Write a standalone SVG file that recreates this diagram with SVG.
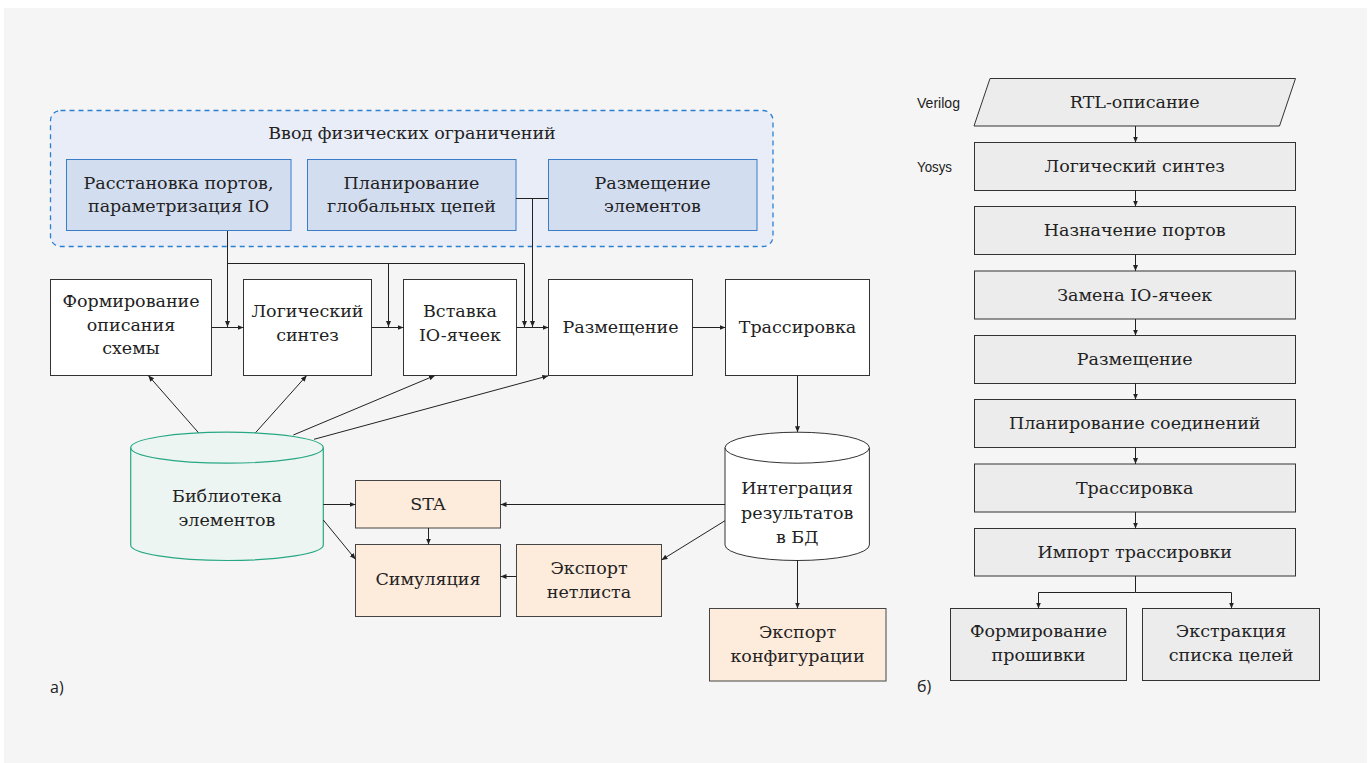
<svg xmlns="http://www.w3.org/2000/svg" width="1371" height="763" viewBox="0 0 1371 763">
<defs>
<marker id="ah" markerUnits="userSpaceOnUse" markerWidth="7" markerHeight="6" refX="6" refY="2.5" orient="auto">
<path d="M0,0 L6,2.5 L0,5 Z" fill="#222"/>
</marker>
<style>
.t{font-family:"DejaVu Serif","Liberation Serif",serif;font-size:17.5px;fill:#222;text-anchor:middle}
.s{font-family:"Liberation Sans Narrow","Liberation Sans",sans-serif;font-size:15px;fill:#222}
.lb{font-family:"Open Sans","Liberation Sans",sans-serif;font-size:16px;fill:#222}
.wb{fill:#fff;stroke:#333;stroke-width:1}
.bb{fill:#d3ddf0;stroke:#3a7cc8;stroke-width:1}
.ob{fill:#fdebdc;stroke:#444;stroke-width:1}
.gb{fill:#ececec;stroke:#333;stroke-width:1}
.c{fill:none;stroke:#222;stroke-width:1}
.a{marker-end:url(#ah)}
</style>
</defs>
<rect x="4" y="8" width="1363" height="755" fill="#f5f5f5"/>

<g id="constraints">
<rect x="50.5" y="110.5" width="722.5" height="136" rx="10" fill="#e9edf7" stroke="#2b7fd0" stroke-width="1.3" stroke-dasharray="5,4"/>
<text class="t" x="412" y="138.5">Ввод физических ограничений</text>
</g>
<g id="n-ports">
<rect class="bb" x="66.5" y="159.5" width="224.5" height="71"/>
<text class="t" x="178.5" y="189">Расстановка портов,</text>
<text class="t" x="178.5" y="212">параметризация IO</text>
</g>
<g id="n-global">
<rect class="bb" x="307.5" y="159.5" width="208.5" height="71"/>
<text class="t" x="411.5" y="189">Планирование</text>
<text class="t" x="411.5" y="212">глобальных цепей</text>
</g>
<g id="n-place-el">
<rect class="bb" x="548.5" y="159.5" width="208.5" height="71"/>
<text class="t" x="652.5" y="189">Размещение</text>
<text class="t" x="652.5" y="212">элементов</text>
</g>

<g id="n-form">
<rect class="wb" x="50.5" y="279.5" width="161" height="96"/>
<text class="t" x="131" y="307">Формирование</text>
<text class="t" x="131" y="330.5">описания</text>
<text class="t" x="131" y="354">схемы</text>
</g>
<g id="n-synth">
<rect class="wb" x="243.5" y="279.5" width="128" height="96"/>
<text class="t" x="307.5" y="317">Логический</text>
<text class="t" x="307.5" y="340.5">синтез</text>
</g>
<g id="n-io">
<rect class="wb" x="403.5" y="279.5" width="113" height="96"/>
<text class="t" x="460" y="317">Вставка</text>
<text class="t" x="460" y="340.5">IO-ячеек</text>
</g>
<g id="n-place">
<rect class="wb" x="548.5" y="279.5" width="144" height="96"/>
<text class="t" x="620.5" y="333">Размещение</text>
</g>
<g id="n-route">
<rect class="wb" x="725.5" y="279.5" width="144" height="96"/>
<text class="t" x="797.5" y="333">Трассировка</text>
</g>

<g id="n-lib">
<path d="M130.7,447.7 A96.3,15.5 0 0 1 323.3,447.7 L323.3,545 A96.3,15.5 0 0 1 130.7,545 Z" fill="#edf5f3" stroke="#27a882" stroke-width="1.2"/>
<path d="M130.7,447.7 A96.3,15.5 0 0 0 323.3,447.7" fill="none" stroke="#27a882" stroke-width="1.2"/>
<text class="t" x="227" y="502">Библиотека</text>
<text class="t" x="227" y="525.5">элементов</text>
</g>
<g id="n-db">
<path d="M725,447.7 A72.2,15.5 0 0 1 869.4,447.7 L869.4,545 A72.2,15.5 0 0 1 725,545 Z" fill="#fff" stroke="#333" stroke-width="1"/>
<path d="M725,447.7 A72.2,15.5 0 0 0 869.4,447.7" fill="none" stroke="#333" stroke-width="1"/>
<text class="t" x="797.2" y="494">Интеграция</text>
<text class="t" x="797.2" y="519">результатов</text>
<text class="t" x="797.2" y="543">в БД</text>
</g>
<g id="n-sta">
<rect class="ob" x="355.5" y="480.5" width="145" height="47.5"/>
<text class="t" x="428" y="509.5">STA</text>
</g>
<g id="n-sim">
<rect class="ob" x="355.5" y="544.5" width="145" height="72"/>
<text class="t" x="428" y="585">Симуляция</text>
</g>
<g id="n-netlist">
<rect class="ob" x="516.5" y="544.5" width="145" height="72"/>
<text class="t" x="589" y="573.5">Экспорт</text>
<text class="t" x="589" y="598">нетлиста</text>
</g>
<g id="n-config">
<rect class="ob" x="709.5" y="608.5" width="176.5" height="72.5"/>
<text class="t" x="797.5" y="638">Экспорт</text>
<text class="t" x="797.5" y="662">конфигурации</text>
</g>

<g id="n-rtl">
<path d="M990,78.5 L1295.5,78.5 L1279.5,126 L974,126 Z" class="gb"/>
<text class="t" x="1134.7" y="107.5">RTL-описание</text>
</g>
<g id="n-r1">
<rect class="gb" x="974.5" y="142.5" width="321" height="48"/>
<text class="t" x="1134.7" y="172">Логический синтез</text>
</g>
<g id="n-r2">
<rect class="gb" x="974.5" y="206.5" width="321" height="48"/>
<text class="t" x="1134.7" y="236">Назначение портов</text>
</g>
<g id="n-r3">
<rect class="gb" x="974.5" y="271" width="321" height="48"/>
<text class="t" x="1134.7" y="300.5">Замена IO-ячеек</text>
</g>
<g id="n-r4">
<rect class="gb" x="974.5" y="335.5" width="321" height="48"/>
<text class="t" x="1134.7" y="365">Размещение</text>
</g>
<g id="n-r5">
<rect class="gb" x="974.5" y="399.5" width="321" height="48"/>
<text class="t" x="1134.7" y="429">Планирование соединений</text>
</g>
<g id="n-r6">
<rect class="gb" x="974.5" y="464" width="321" height="48"/>
<text class="t" x="1134.7" y="493.5">Трассировка</text>
</g>
<g id="n-r7">
<rect class="gb" x="974.5" y="528.5" width="321" height="47.5"/>
<text class="t" x="1134.7" y="558">Импорт трассировки</text>
</g>
<g id="n-r8">
<rect class="gb" x="950.5" y="608.5" width="176" height="72"/>
<text class="t" x="1038.5" y="637">Формирование</text>
<text class="t" x="1038.5" y="660.5">прошивки</text>
</g>
<g id="n-r9">
<rect class="gb" x="1142.5" y="608.5" width="177" height="72"/>
<text class="t" x="1231" y="637">Экстракция</text>
<text class="t" x="1231" y="660.5">списка целей</text>
</g>

<g id="labels">
<text class="s" x="917" y="108" textLength="43" lengthAdjust="spacingAndGlyphs">Verilog</text>
<text class="s" x="917" y="172" textLength="35" lengthAdjust="spacingAndGlyphs">Yosys</text>
<text class="lb" x="50" y="693">а)</text>
<text class="lb" x="917" y="692">б)</text>
</g>

<g id="connectors">
<path class="c a" d="M227.5,231 V327"/>
<path class="c a" d="M227.5,263.5 H524.5 V327"/>
<path class="c a" d="M388.5,263.5 V327"/>
<path class="c" d="M516,198.5 H548"/>
<path class="c a" d="M532.5,198.5 V327"/>
<path class="c a" d="M211.5,327.5 H243.5"/>
<path class="c a" d="M371.5,327.5 H403.5"/>
<path class="c a" d="M516.5,327.5 H548.5"/>
<path class="c a" d="M692.5,327.5 H725.5"/>
<path class="c a" d="M797.5,375.5 V432.3"/>
<path class="c a" d="M198.3,432.5 L148.3,375.5"/>
<path class="c a" d="M255.7,432.5 L306.7,375.5"/>
<path class="c a" d="M293.3,435 L435,375.5"/>
<path class="c a" d="M314,439.3 L548.3,375.8"/>
<path class="c a" d="M323.3,504.5 H355.5"/>
<path class="c a" d="M725,504.5 H500.5"/>
<path class="c a" d="M428.5,528 V544.5"/>
<path class="c a" d="M323.3,520 L355.5,559.3"/>
<path class="c a" d="M725,520.7 L661.5,560"/>
<path class="c a" d="M516.5,576.5 H500.5"/>
<path class="c a" d="M797.5,560 V608.5"/>
<path class="c a" d="M1135.5,126 V142.5"/>
<path class="c a" d="M1135.5,190.5 V206.5"/>
<path class="c a" d="M1135.5,254.5 V271"/>
<path class="c a" d="M1135.5,319 V335.5"/>
<path class="c a" d="M1135.5,383.5 V399.5"/>
<path class="c a" d="M1135.5,447.5 V464"/>
<path class="c a" d="M1135.5,512 V528.5"/>
<path class="c" d="M1135.5,576 V592.5"/>
<path class="c a" d="M1135.5,592.5 H1038.5 V608.5"/>
<path class="c a" d="M1135.5,592.5 H1231.5 V608.5"/>
</g>
</svg>
